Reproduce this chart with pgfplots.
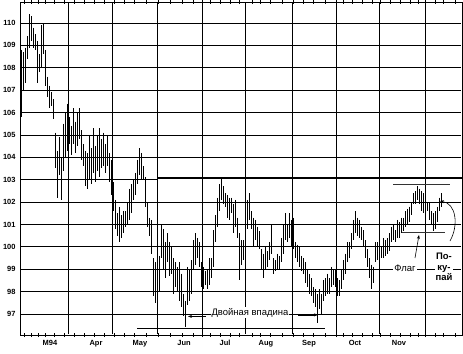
\documentclass[border=0pt]{standalone}
\usepackage{fontspec}
\setmainfont{Liberation Sans}
\usepackage{pgfplots}
\usepackage{pgfplotstable}
\pgfplotsset{compat=1.18}
\usetikzlibrary{arrows.meta}

\pgfplotstableread{
x lo hi
21 105.8 108.8
23 107.0 108.7
25 107.3 108.9
27 108.4 109.4
29 108.9 110.4
31 109.2 110.3
33 108.9 109.8
35 108.8 109.5
37 107.3 109.2
39 107.8 108.6
41 108.0 109.9
43 108.6 110.0
45 107.2 108.8
47 106.7 107.6
49 106.2 107.2
51 106.3 106.9
53 105.7 106.6
55 103.5 105.1
57 102.2 104.3
59 103.2 104.9
61 102.1 104.0
63 103.4 105.5
65 104.0 106.0
67 104.3 106.4
69 104.6 105.8
71 104.1 105.4
73 104.6 106.2
75 104.2 105.6
77 104.5 106.0
79 104.8 106.2
81 103.9 105.2
83 103.6 104.6
85 102.7 104.3
87 102.6 104.2
89 103.0 105.0
91 102.8 104.4
93 103.3 105.3
95 102.9 104.5
97 103.4 105.0
99 103.1 105.3
101 103.5 104.8
103 103.6 105.1
105 103.3 104.6
107 103.6 105.0
109 102.9 104.2
111 102.3 103.9
113 101.6 102.9
115 100.8 102.1
117 100.5 101.5
119 100.2 101.8
121 100.4 101.4
123 100.6 101.6
125 100.9 101.6
127 101.0 102.0
129 101.2 102.6
131 101.5 102.8
133 102.1 103.0
135 102.3 103.3
137 102.8 103.9
139 103.2 104.4
141 103.0 104.2
143 103.0 103.6
145 101.8 103.1
147 100.9 102.0
149 100.5 101.3
151 99.7 101.2
153 97.8 99.5
155 97.5 99.3
157 97.8 99.0
159 98.0 99.6
161 99.5 101.0
163 99.0 100.8
165 98.6 100.2
167 99.3 100.6
169 98.7 100.2
171 98.8 100.0
173 97.9 99.5
175 98.2 99.3
177 98.0 99.1
179 97.6 99.3
181 97.3 98.8
183 96.9 97.9
185 96.4 97.6
187 97.4 99.1
189 97.6 99.0
191 97.9 99.4
193 99.0 100.3
195 99.2 100.6
197 99.5 100.4
199 99.1 100.2
201 98.2 99.3
203 98.1 99.1
205 98.3 98.9
207 98.1 99.0
209 98.3 99.5
211 98.6 99.5
213 99.1 100.75
215 100.2 101.4
217 100.9 102.2
219 101.6 102.8
221 102.1 103.1
223 101.9 102.7
225 101.8 102.4
227 101.3 102.3
229 101.2 102.2
231 101.5 102.2
233 100.6 101.9
235 100.9 102.1
237 100.4 101.3
239 98.5 100.6
241 99.2 100.3
243 99.4 100.3
245 100.2 101.3
247 100.8 102.1
249 101.2 102.4
251 100.8 101.6
253 100.0 101.3
255 100.3 101.2
257 100.0 100.9
259 99.9 100.7
261 99.0 99.9
263 98.6 99.7
265 99.0 100.0
267 99.1 99.8
269 99.4 100.2
271 99.7 101.0
273 98.8 99.5
275 98.9 99.4
277 99.0 99.7
279 99.0 99.6
281 99.3 100.4
283 99.7 101.0
285 100.3 101.5
287 100.2 101.0
289 100.4 101.5
291 100.0 101.2
293 99.9 101.3
295 99.5 100.2
297 99.3 100.1
299 99.1 100.0
301 98.9 99.6
303 98.8 99.5
305 98.4 99.3
307 98.2 99.0
309 97.9 98.8
311 97.8 98.6
313 97.5 98.2
315 97.3 98.1
317 96.6 97.9
319 97.2 98.1
321 97.0 97.9
323 97.6 98.5
325 97.8 98.6
327 97.9 98.8
329 97.9 98.6
331 98.2 99.1
333 98.3 99.0
335 98.2 99.0
337 97.8 98.6
339 97.8 98.5
341 98.1 99.0
343 98.5 99.4
345 98.8 99.7
347 99.3 100.2
349 99.5 100.2
351 99.9 100.6
353 100.3 101.2
355 100.6 101.6
357 100.5 101.3
359 100.4 101.2
361 100.3 100.9
363 100.0 100.75
365 99.5 100.3
367 99.1 99.9
369 98.6 99.5
371 98.1 99.2
373 98.4 99.1
375 99.3 100.2
377 99.4 100.2
379 99.5 100.1
381 99.5 100.0
383 99.5 100.4
385 99.6 100.3
387 99.7 100.4
389 99.8 100.6
391 100.2 100.9
393 100.3 101.0
395 100.2 100.75
397 100.4 101.2
399 100.4 101.1
401 100.6 101.3
403 100.7 101.3
405 100.9 101.6
407 101.0 101.7
409 101.1 101.8
411 101.4 102.0
413 101.9 102.4
415 101.9 102.5
417 102.1 102.7
419 101.9 102.6
421 101.6 102.5
423 101.5 102.4
425 101.6 102.1
427 101.6 102.0
429 101.2 102.0
431 101.0 101.6
433 100.7 101.5
435 100.8 101.6
437 101.1 101.8
439 101.6 102.2
441 101.8 102.4
}\bars

\begin{document}
\begin{tikzpicture}
\path[use as bounding box] (-20bp,-19bp) rectangle (443bp,335bp);
\begin{axis}[
  at={(0,0)}, anchor=south west,
  scale only axis, width=442bp, height=333bp,
  xmin=20, xmax=462, ymin=96.06, ymax=110.94,
  axis line style={black, line width=0.8pt},
  xtick={50,96,140,184,225,266,309,355,399},
  xticklabels={M94,Apr,May,Jun,Jul,Aug,Sep,Oct,Nov},
  minor xtick={24,31,38,45,54,64,74,84,94,104,114,124,134,146,158,170,182,193,202,210,220,230,239,252,260,270,282,293,303,313,325,336,343,352,362,372,380,390,400,410,418,425,435,443,455},
  ytick={97,98,99,100,101,102,103,104,105,106,107,108,109,110},
  major tick length=0pt, minor tick length=4bp, tick align=center,
  minor tick style={black, line width=0.6pt},
  tick label style={font=\fontsize{7.5}{8}\selectfont\bfseries, /pgf/number format/assume math mode=true},
  yticklabel style={xshift=-1bp},
  xticklabel style={yshift=-2bp},
  clip=false,
]
\addplot[draw=none, mark=none,
  error bars/.cd, y dir=minus, y explicit, error mark=none,
  error bar style={draw=black, line width=1pt}]
  table[x=x, y=hi, y error minus expr=\thisrow{hi}-\thisrow{lo}] {\bars};

% grid lines (slightly inset from the frame)
\draw[black, line width=0.75pt] (axis cs:20.6,97) -- (axis cs:461.4,97);
\draw[black, line width=0.75pt] (axis cs:20.6,98) -- (axis cs:461.4,98);
\draw[black, line width=0.75pt] (axis cs:20.6,99) -- (axis cs:461.4,99);
\draw[black, line width=0.75pt] (axis cs:20.6,100) -- (axis cs:461.4,100);
\draw[black, line width=0.75pt] (axis cs:20.6,101) -- (axis cs:461.4,101);
\draw[black, line width=0.75pt] (axis cs:20.6,102) -- (axis cs:461.4,102);
\draw[black, line width=0.75pt] (axis cs:20.6,103) -- (axis cs:157,103);
\draw[black, line width=0.75pt] (axis cs:20.6,104) -- (axis cs:461.4,104);
\draw[black, line width=0.75pt] (axis cs:20.6,105) -- (axis cs:461.4,105);
\draw[black, line width=0.75pt] (axis cs:20.6,106) -- (axis cs:461.4,106);
\draw[black, line width=0.75pt] (axis cs:20.6,107) -- (axis cs:461.4,107);
\draw[black, line width=0.75pt] (axis cs:20.6,108) -- (axis cs:461.4,108);
\draw[black, line width=0.75pt] (axis cs:20.6,109) -- (axis cs:461.4,109);
\draw[black, line width=0.75pt] (axis cs:20.6,110) -- (axis cs:461.4,110);
\draw[black, line width=0.75pt] (axis cs:68,96.1) -- (axis cs:68,110.9);
\draw[black, line width=0.75pt] (axis cs:112,96.1) -- (axis cs:112,110.9);
\draw[black, line width=0.75pt] (axis cs:157,96.1) -- (axis cs:157,110.9);
\draw[black, line width=0.75pt] (axis cs:202,96.1) -- (axis cs:202,110.9);
\draw[black, line width=0.75pt] (axis cs:245,96.1) -- (axis cs:245,110.9);
\draw[black, line width=0.75pt] (axis cs:292,96.1) -- (axis cs:292,110.9);
\draw[black, line width=0.75pt] (axis cs:336,96.1) -- (axis cs:336,110.9);
\draw[black, line width=0.75pt] (axis cs:379,96.1) -- (axis cs:379,110.9);
\draw[black, line width=0.75pt] (axis cs:425,96.1) -- (axis cs:425,110.9);

% resistance line
\draw[black, line width=1.6pt] (axis cs:157,103.07) -- (axis cs:462,103.07);
% double bottom support
\draw[black, line width=0.8pt] (axis cs:137,96.37) -- (axis cs:325,96.37);
% flag lines
\draw[black!80, line width=0.8pt] (axis cs:393,102.80) -- (axis cs:450,102.80);
\draw[black!80, line width=0.8pt] (axis cs:402,100.66) -- (axis cs:445,100.66);

\node[fill=white, inner sep=1pt, font=\fontsize{9.5}{10}\selectfont] at (axis cs:250,97.05) {Двойная впадина};
\draw[-{Stealth[length=4bp,width=3bp]}, line width=0.6pt] (axis cs:206,96.89) -- (axis cs:188,96.89);
\draw[-{Stealth[length=4bp,width=3bp]}, line width=0.6pt] (axis cs:298,96.96) -- (axis cs:318,96.96);

\node[fill=white, inner sep=1pt, font=\fontsize{9.5}{10}\selectfont] at (axis cs:405,99.05) {Флаг};
\draw[-{Stealth[length=4bp,width=3bp]}, line width=0.6pt] (axis cs:415,99.5) -- (axis cs:419,100.53);

\node[fill=white, inner sep=1pt, align=center, font=\fontsize{9.5}{10.5}\selectfont\bfseries] at (axis cs:444,99.1) {По-\\ку-\\пай};
\draw[-{Stealth[length=4bp,width=3bp]}, line width=0.6pt] (axis cs:450,100.26) .. controls (axis cs:459,100.97) and (axis cs:456,101.95) .. (axis cs:440,102.04);
\end{axis}
\end{tikzpicture}
\end{document}
